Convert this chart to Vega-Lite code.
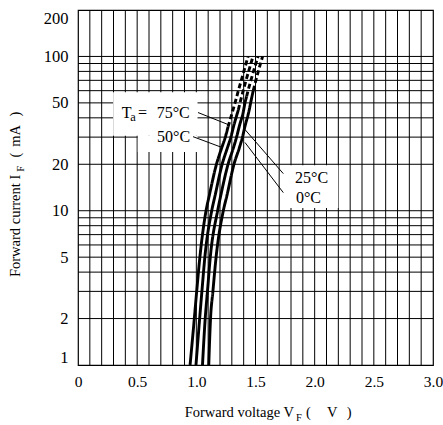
{
  "$schema": "https://vega.github.io/schema/vega-lite/v6.json",
  "width": 355,
  "height": 355,
  "autosize": {"type": "none"},
  "padding": {"left": 78, "top": 10, "right": 10, "bottom": 60},
  "background": "white",
  "config": {
    "font": "Liberation Serif",
    "view": {"stroke": "#000", "strokeWidth": 1.2},
    "axis": {"grid": false, "ticks": false, "tickSize": 0, "domain": false, "labelFontSize": 15, "labelColor": "#000", "labelFont": "Liberation Serif", "labelOverlap": false}
  },
  "datasets": {
    "vgrid": [{"v":0.1},{"v":0.2},{"v":0.3},{"v":0.4},{"v":0.5},{"v":0.6},{"v":0.7},{"v":0.8},{"v":0.9},{"v":1.0},{"v":1.1},{"v":1.2},{"v":1.3},{"v":1.4},{"v":1.5},{"v":1.6},{"v":1.7},{"v":1.8},{"v":1.9},{"v":2.0},{"v":2.1},{"v":2.2},{"v":2.3},{"v":2.4},{"v":2.5},{"v":2.6},{"v":2.7},{"v":2.8},{"v":2.9}],
    "hgrid": [{"i":2},{"i":3},{"i":4},{"i":5},{"i":6},{"i":7},{"i":8},{"i":9},{"i":10},{"i":20},{"i":30},{"i":40},{"i":50},{"i":60},{"i":70},{"i":80},{"i":90},{"i":100}],
    "masks": [
      {"v":0.297,"v2":1.01,"i":30.6,"i2":58.5},
      {"v":0.505,"v2":1.01,"i":24,"i2":30.6},
      {"v":1.78,"v2":2.2,"i":10.4,"i2":19.7}
    ],
    "curves": [
      {"t":"75","p":"solid","i":1,"v":0.947},{"t":"75","p":"solid","i":2,"v":0.983},{"t":"75","p":"solid","i":3,"v":1.003},{"t":"75","p":"solid","i":5,"v":1.030},{"t":"75","p":"solid","i":10,"v":1.082},{"t":"75","p":"solid","i":12.5,"v":1.109},{"t":"75","p":"solid","i":20,"v":1.170},{"t":"75","p":"solid","i":25.5,"v":1.214},{"t":"75","p":"solid","i":30,"v":1.245},{"t":"75","p":"solid","i":35,"v":1.268},
      {"t":"75","p":"dashed","i":35,"v":1.268},{"t":"75","p":"dashed","i":45,"v":1.310},{"t":"75","p":"dashed","i":50,"v":1.327},{"t":"75","p":"dashed","i":55,"v":1.342},{"t":"75","p":"dashed","i":60,"v":1.355},{"t":"75","p":"dashed","i":70,"v":1.380},{"t":"75","p":"dashed","i":100,"v":1.437},
      {"t":"50","p":"solid","i":1,"v":0.997},{"t":"50","p":"solid","i":2,"v":1.028},{"t":"50","p":"solid","i":3,"v":1.047},{"t":"50","p":"solid","i":5,"v":1.072},{"t":"50","p":"solid","i":10,"v":1.130},{"t":"50","p":"solid","i":12.5,"v":1.158},{"t":"50","p":"solid","i":20,"v":1.218},{"t":"50","p":"solid","i":25.5,"v":1.262},{"t":"50","p":"solid","i":30,"v":1.292},{"t":"50","p":"solid","i":35,"v":1.314},{"t":"50","p":"solid","i":45,"v":1.355},
      {"t":"50","p":"dashed","i":45,"v":1.355},{"t":"50","p":"dashed","i":50,"v":1.369},{"t":"50","p":"dashed","i":55,"v":1.383},{"t":"50","p":"dashed","i":60,"v":1.396},{"t":"50","p":"dashed","i":70,"v":1.420},{"t":"50","p":"dashed","i":100,"v":1.479},
      {"t":"25","p":"solid","i":1,"v":1.052},{"t":"25","p":"solid","i":2,"v":1.075},{"t":"25","p":"solid","i":3,"v":1.094},{"t":"25","p":"solid","i":5,"v":1.118},{"t":"25","p":"solid","i":10,"v":1.180},{"t":"25","p":"solid","i":12.5,"v":1.206},{"t":"25","p":"solid","i":20,"v":1.268},{"t":"25","p":"solid","i":25.5,"v":1.313},{"t":"25","p":"solid","i":30,"v":1.340},{"t":"25","p":"solid","i":35,"v":1.362},{"t":"25","p":"solid","i":45,"v":1.400},{"t":"25","p":"solid","i":50,"v":1.411},{"t":"25","p":"solid","i":55,"v":1.425},
      {"t":"25","p":"dashed","i":55,"v":1.425},{"t":"25","p":"dashed","i":60,"v":1.437},{"t":"25","p":"dashed","i":70,"v":1.461},{"t":"25","p":"dashed","i":100,"v":1.521},
      {"t":"0","p":"solid","i":1,"v":1.105},{"t":"0","p":"solid","i":2,"v":1.120},{"t":"0","p":"solid","i":3,"v":1.140},{"t":"0","p":"solid","i":5,"v":1.167},{"t":"0","p":"solid","i":10,"v":1.228},{"t":"0","p":"solid","i":12.5,"v":1.258},{"t":"0","p":"solid","i":20,"v":1.318},{"t":"0","p":"solid","i":25.5,"v":1.363},{"t":"0","p":"solid","i":30,"v":1.390},{"t":"0","p":"solid","i":35,"v":1.410},{"t":"0","p":"solid","i":45,"v":1.447},{"t":"0","p":"solid","i":50,"v":1.459},{"t":"0","p":"solid","i":55,"v":1.470},{"t":"0","p":"solid","i":60,"v":1.481},
      {"t":"0","p":"dashed","i":60,"v":1.481},{"t":"0","p":"dashed","i":70,"v":1.503},{"t":"0","p":"dashed","i":100,"v":1.560}
    ],
    "leaders": [
      {"v":1.014,"i":43.3,"v2":1.268,"i2":36.2},
      {"v":0.972,"i":30.2,"v2":1.217,"i2":25.7},
      {"v":1.411,"i":33.6,"v2":1.735,"i2":17.4},
      {"v":1.411,"i":27.7,"v2":1.735,"i2":13.1}
    ],
    "texts": [
      {"g":"lab","txt":"T","v":0.369,"i":40.0},
      {"g":"lab","txt":"=","v":0.507,"i":40.0},
      {"g":"lab","txt":"75°C","v":0.665,"i":40.0},
      {"g":"lab","txt":"50°C","v":0.668,"i":27.7},
      {"g":"lab","txt":"25°C","v":1.834,"i":15.1},
      {"g":"lab","txt":"0°C","v":1.842,"i":11.27},
      {"g":"sub","txt":"a","v":0.442,"i":38.1},
      {"g":"xmain","txt":"Forward voltage V","v":1.825,"i":0.4594},
      {"g":"xsub","txt":"F","v":1.842,"i":0.433},
      {"g":"xtail","txt":"(","v":1.927,"i":0.4594},
      {"g":"xtail","txt":"V","v":2.105,"i":0.4594},
      {"g":"xtail","txt":")","v":2.271,"i":0.4594},
      {"g":"ymain","txt":"Forward current I","v":-0.49,"i":17.1},
      {"g":"ysub","txt":"F","v":-0.456,"i":17.9},
      {"g":"ytail","txt":"(","v":-0.49,"i":22.1},
      {"g":"ytail","txt":"mA","v":-0.49,"i":26.0},
      {"g":"ytail","txt":")","v":-0.49,"i":40.8}
    ]
  },
  "layer": [
    {
      "data": {"name": "vgrid"},
      "mark": {"type": "rule", "color": "#000", "strokeWidth": 1},
      "encoding": {
        "x": {"field": "v", "type": "quantitative", "title": null, "scale": {"domain": [0, 3], "nice": false, "zero": false}}
      }
    },
    {
      "data": {"name": "hgrid"},
      "mark": {"type": "rule", "color": "#000", "strokeWidth": 1},
      "encoding": {
        "y": {"field": "i", "type": "quantitative", "title": null, "scale": {"type": "log", "domain": [1, 200], "nice": false}}
      }
    },
    {
      "data": {"name": "masks"},
      "mark": {"type": "rect", "fill": "white", "stroke": null},
      "encoding": {
        "x": {"field": "v", "type": "quantitative", "title": null},
        "x2": {"field": "v2"},
        "y": {"field": "i", "type": "quantitative", "title": null},
        "y2": {"field": "i2"}
      }
    },
    {
      "data": {"name": "curves"},
      "mark": {"type": "line", "color": "#000", "strokeWidth": 2.9, "interpolate": "monotone", "strokeCap": "butt"},
      "encoding": {
        "x": {"field": "v", "type": "quantitative", "title": null, "scale": {"domain": [0, 3], "nice": false, "zero": false},
          "axis": {"values": [0, 0.5, 1, 1.5, 2, 2.5, 3], "labelExpr": "datum.value == 0 ? '0' : format(datum.value, '.1f')", "labelFontSize": 15.5, "labelPadding": 9, "labelFlush": false, "title": null}},
        "y": {"field": "i", "type": "quantitative", "title": null, "scale": {"type": "log", "domain": [1, 200], "nice": false},
          "axis": {"values": [1, 2, 5, 10, 20, 50, 100, 200], "format": "d", "labelFontSize": 16.5, "labelPadding": 10, "labelFlush": true, "title": null}},
        "detail": {"field": "t"},
        "strokeDash": {"field": "p", "type": "nominal", "scale": {"domain": ["solid", "dashed"], "range": [[1, 0], [5, 3]]}, "legend": null},
        "order": {"field": "i", "type": "quantitative"}
      }
    },
    {
      "data": {"name": "leaders"},
      "mark": {"type": "rule", "color": "#000", "strokeWidth": 1},
      "encoding": {
        "x": {"field": "v", "type": "quantitative", "title": null},
        "x2": {"field": "v2"},
        "y": {"field": "i", "type": "quantitative", "title": null},
        "y2": {"field": "i2"}
      }
    },
    {
      "data": {"name": "texts"},
      "transform": [{"filter": "datum.g == 'lab'"}],
      "mark": {"type": "text", "fontSize": 16, "align": "left", "baseline": "alphabetic", "color": "#000"},
      "encoding": {
        "x": {"field": "v", "type": "quantitative", "title": null},
        "y": {"field": "i", "type": "quantitative", "title": null},
        "text": {"field": "txt"}
      }
    },
    {
      "data": {"name": "texts"},
      "transform": [{"filter": "datum.g == 'sub'"}],
      "mark": {"type": "text", "fontSize": 12.5, "align": "left", "baseline": "alphabetic", "color": "#000"},
      "encoding": {
        "x": {"field": "v", "type": "quantitative", "title": null},
        "y": {"field": "i", "type": "quantitative", "title": null},
        "text": {"field": "txt"}
      }
    },
    {
      "data": {"name": "texts"},
      "transform": [{"filter": "datum.g == 'xmain'"}],
      "mark": {"type": "text", "fontSize": 14.5, "align": "right", "baseline": "alphabetic", "color": "#000"},
      "encoding": {
        "x": {"field": "v", "type": "quantitative", "title": null},
        "y": {"field": "i", "type": "quantitative", "title": null},
        "text": {"field": "txt"}
      }
    },
    {
      "data": {"name": "texts"},
      "transform": [{"filter": "datum.g == 'xsub'"}],
      "mark": {"type": "text", "fontSize": 10.5, "align": "left", "baseline": "alphabetic", "color": "#000"},
      "encoding": {
        "x": {"field": "v", "type": "quantitative", "title": null},
        "y": {"field": "i", "type": "quantitative", "title": null},
        "text": {"field": "txt"}
      }
    },
    {
      "data": {"name": "texts"},
      "transform": [{"filter": "datum.g == 'xtail'"}],
      "mark": {"type": "text", "fontSize": 14.5, "align": "left", "baseline": "alphabetic", "color": "#000"},
      "encoding": {
        "x": {"field": "v", "type": "quantitative", "title": null},
        "y": {"field": "i", "type": "quantitative", "title": null},
        "text": {"field": "txt"}
      }
    },
    {
      "data": {"name": "texts"},
      "transform": [{"filter": "datum.g == 'ymain'"}],
      "mark": {"type": "text", "fontSize": 14.5, "align": "right", "baseline": "alphabetic", "angle": 270, "color": "#000"},
      "encoding": {
        "x": {"field": "v", "type": "quantitative", "title": null},
        "y": {"field": "i", "type": "quantitative", "title": null},
        "text": {"field": "txt"}
      }
    },
    {
      "data": {"name": "texts"},
      "transform": [{"filter": "datum.g == 'ysub'"}],
      "mark": {"type": "text", "fontSize": 10.5, "align": "left", "baseline": "alphabetic", "angle": 270, "color": "#000"},
      "encoding": {
        "x": {"field": "v", "type": "quantitative", "title": null},
        "y": {"field": "i", "type": "quantitative", "title": null},
        "text": {"field": "txt"}
      }
    },
    {
      "data": {"name": "texts"},
      "transform": [{"filter": "datum.g == 'ytail'"}],
      "mark": {"type": "text", "fontSize": 14.5, "align": "left", "baseline": "alphabetic", "angle": 270, "color": "#000"},
      "encoding": {
        "x": {"field": "v", "type": "quantitative", "title": null},
        "y": {"field": "i", "type": "quantitative", "title": null},
        "text": {"field": "txt"}
      }
    }
  ]
}
